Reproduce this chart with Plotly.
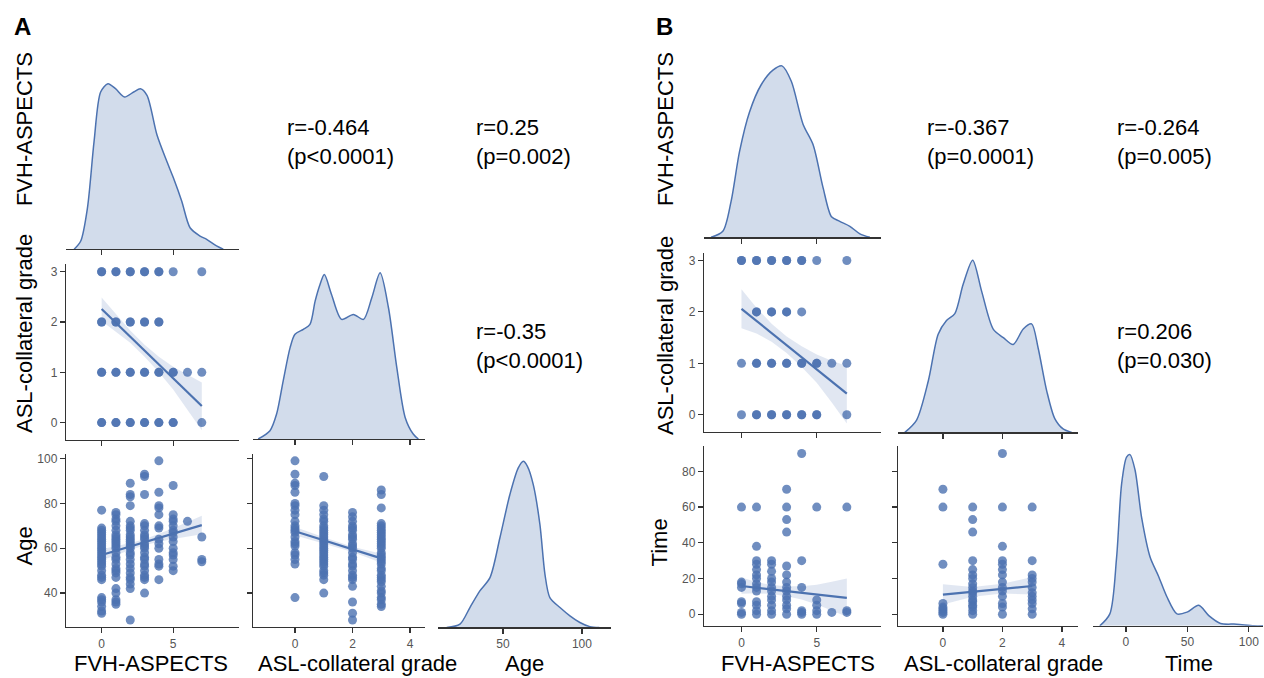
import plotly.graph_objects as go

W, H = 1264, 678
BLUE = "#4c72b0"
PT = "rgba(76,114,176,0.8)"
BAND = "rgba(76,114,176,0.17)"
KFILL = "rgba(76,114,176,0.25)"
FONT = "Liberation Sans, Arial, sans-serif"

# ---------------- DATA ----------------
# Panel A: KDE curves (relative density, peak = 1)
A_fvh_kde_x = [-1.92, -1.46, -0.99, -0.53, -0.07, 0.44, 0.97, 1.6, 2.24, 2.71, 3.17, 3.87, 4.56, 5.02, 5.6, 6.18, 6.88, 7.34, 8.03, 8.5]
A_fvh_kde_y = [0.0, 0.05, 0.25, 0.65, 0.95, 1.0, 0.97, 0.92, 0.95, 0.97, 0.93, 0.69, 0.53, 0.43, 0.29, 0.13, 0.08, 0.06, 0.02, 0.0]
A_asl_kde_x = [-1.28, -0.87, -0.64, -0.41, -0.17, 0.0, 0.29, 0.52, 0.7, 0.87, 1.02, 1.27, 1.62, 2.03, 2.38, 2.67, 2.96, 3.25, 3.54, 3.83, 4.11, 4.29]
A_asl_kde_y = [0.0, 0.05, 0.15, 0.35, 0.55, 0.63, 0.66, 0.69, 0.83, 0.93, 0.99, 0.87, 0.72, 0.75, 0.72, 0.85, 1.0, 0.79, 0.43, 0.13, 0.03, 0.0]
A_age_kde_x = [14.4, 22.8, 29.1, 35.4, 41.8, 48.1, 54.4, 59.7, 62.9, 65.5, 69.2, 73.4, 76.6, 79.7, 86.1, 92.4, 98.7, 105.0, 111.0]
A_age_kde_y = [0.0, 0.02, 0.12, 0.22, 0.30, 0.54, 0.80, 0.96, 1.0, 0.97, 0.86, 0.62, 0.32, 0.18, 0.12, 0.07, 0.03, 0.005, 0.0]

# Panel A: FVH-ASPECTS (x) by ASL-collateral grade level (y)
A_fvh_asl = {
    3: [0, 0, 1, 1, 2, 2, 3, 3, 4, 4, 5, 7],
    2: [0, 0, 1, 1, 2, 2, 3, 3, 4, 4],
    1: [0, 0, 1, 1, 2, 2, 3, 3, 4, 4, 5, 5, 6, 7],
    0: [0, 0, 1, 1, 2, 2, 3, 3, 4, 4, 5, 5, 7],
}
# Panel A: Age by FVH-ASPECTS value
A_fvh_age = {
    0: [77, 69, 68, 67, 66, 65, 64, 63, 62, 61, 60, 59, 58, 57, 56, 55, 54, 53, 52, 50, 48, 47, 46, 38, 37, 36, 34, 32, 31],
    1: [76, 75, 73, 72, 70, 68, 66, 65, 64, 63, 62, 61, 60, 58, 56, 55, 53, 51, 50, 49, 47, 42, 40, 37, 36, 35],
    2: [89, 84, 83, 79, 72, 70, 69, 68, 66, 65, 64, 63, 62, 61, 60, 58, 57, 55, 53, 51, 49, 47, 46, 44, 42, 28],
    3: [93, 92, 84, 71, 70, 68, 66, 65, 64, 62, 61, 60, 58, 56, 55, 53, 52, 50, 48, 47, 46, 40],
    4: [99, 85, 79, 78, 75, 70, 69, 64, 62, 60, 55, 53, 52, 46],
    5: [88, 75, 73, 72, 70, 68, 67, 65, 63, 60, 58, 57, 55, 52, 50],
    6: [72],
    7: [65, 55, 54],
}
# Panel A: Age by ASL-collateral grade
A_asl_age = {
    0: [99, 93, 89, 88, 85, 80, 79, 77, 75, 72, 70, 69, 68, 67, 65, 63, 62, 61, 58, 57, 55, 53, 38],
    1: [92, 79, 77, 75, 73, 72, 70, 69, 68, 67, 66, 65, 64, 63, 62, 61, 60, 59, 58, 57, 56, 55, 54, 53, 52, 50, 49, 48, 46, 40],
    2: [76, 74, 72, 70, 69, 68, 66, 65, 64, 62, 61, 60, 58, 56, 55, 53, 52, 50, 48, 47, 46, 43, 36, 31, 28],
    3: [86, 84, 78, 71, 70, 69, 68, 67, 66, 65, 64, 63, 62, 61, 60, 58, 57, 56, 55, 54, 53, 51, 50, 48, 47, 46, 45, 43, 41, 40, 38, 37, 35, 34],
}
# Panel A: regression lines with confidence bands
A_reg_fvh_x = [0, 1, 2, 3, 4, 5, 6, 7]
A_reg_fvh_asl = [2.26, 1.98, 1.71, 1.43, 1.16, 0.88, 0.61, 0.33]
A_reg_fvh_asl_hi = [2.49, 2.15, 1.83, 1.55, 1.31, 1.11, 0.95, 0.80]
A_reg_fvh_asl_lo = [2.02, 1.81, 1.59, 1.31, 1.00, 0.66, 0.26, -0.15]
A_reg_fvh_age = [57.0, 58.9, 60.8, 62.7, 64.6, 66.5, 68.4, 70.3]
A_reg_fvh_age_hi = [59.6, 60.8, 62.3, 64.0, 66.3, 68.9, 71.7, 74.5]
A_reg_fvh_age_lo = [54.5, 56.9, 59.2, 61.3, 62.9, 64.1, 65.2, 66.2]
A_reg_asl_x = [0, 1, 2, 3]
A_reg_asl_age = [67.6, 63.6, 59.5, 55.5]
A_reg_asl_age_hi = [69.5, 64.9, 60.7, 57.5]
A_reg_asl_age_lo = [65.8, 62.2, 58.3, 53.5]

# Panel B: KDE curves
B_fvh_kde_x = [-2.02, -1.24, -0.69, -0.13, 0.53, 1.31, 2.09, 2.69, 3.31, 4.09, 4.76, 5.42, 5.98, 6.53, 7.2, 7.87, 8.53]
B_fvh_kde_y = [0.0, 0.035, 0.21, 0.5, 0.73, 0.89, 0.975, 1.0, 0.91, 0.66, 0.54, 0.29, 0.12, 0.093, 0.064, 0.02, 0.0]
B_asl_kde_x = [-1.28, -0.89, -0.49, -0.16, 0.12, 0.4, 0.68, 1.0, 1.3, 1.69, 2.03, 2.36, 2.7, 2.98, 3.2, 3.49, 3.76, 4.04, 4.33]
B_asl_kde_y = [0.0, 0.07, 0.3, 0.57, 0.65, 0.69, 0.86, 1.0, 0.82, 0.6, 0.55, 0.51, 0.6, 0.63, 0.49, 0.24, 0.08, 0.02, 0.0]
B_time_kde_x = [-21.3, -13.1, -7.6, -3.5, 0.5, 3.3, 7.4, 12.8, 19.7, 26.5, 33.3, 41.5, 49.7, 59.2, 67.4, 77.0, 90.0, 104.0, 112.0]
B_time_kde_y = [0.0, 0.07, 0.40, 0.83, 0.985, 1.0, 0.91, 0.63, 0.40, 0.29, 0.17, 0.07, 0.08, 0.12, 0.06, 0.014, 0.01, 0.0, 0.0]

B_fvh_asl = {
    3: [0, 0, 1, 1, 2, 2, 3, 3, 4, 4, 5, 7],
    2: [1, 1, 2, 2, 3, 3, 4],
    1: [0, 1, 1, 2, 2, 3, 3, 4, 4, 5, 5, 6, 7],
    0: [0, 1, 1, 2, 2, 3, 3, 4, 4, 5, 5, 7],
}
B_fvh_time = {
    0: [60, 18, 17, 15, 7, 6, 1, 0],
    1: [60, 38, 30, 28, 25, 22, 20, 17, 15, 13, 7, 5, 2, 0],
    2: [30, 28, 24, 20, 18, 15, 13, 10, 8, 5, 2, 0],
    3: [70, 60, 53, 46, 27, 22, 18, 15, 13, 10, 8, 5, 3, 0],
    4: [90, 30, 15, 2, 1, 0],
    5: [60, 8, 5, 2, 0],
    6: [1],
    7: [60, 2, 1],
}
B_asl_time = {
    0: [70, 60, 28, 6, 4, 3, 2, 1, 0],
    1: [60, 53, 46, 30, 25, 22, 20, 17, 15, 13, 12, 10, 8, 7, 5, 4, 2, 0],
    2: [90, 60, 38, 30, 28, 25, 22, 18, 15, 13, 10, 6, 4, 0],
    3: [60, 30, 22, 20, 18, 15, 12, 10, 8, 6, 3, 0],
}
B_reg_fvh_x = [0, 1, 2, 3, 4, 5, 6, 7]
B_reg_fvh_asl = [2.06, 1.82, 1.59, 1.35, 1.12, 0.88, 0.65, 0.41]
B_reg_fvh_asl_hi = [2.44, 2.08, 1.77, 1.52, 1.33, 1.17, 1.05, 0.95]
B_reg_fvh_asl_lo = [1.68, 1.58, 1.42, 1.20, 0.93, 0.62, 0.24, -0.17]
B_reg_fvh_time = [15.8, 14.8, 13.9, 12.9, 12.0, 11.0, 10.1, 9.1]
B_reg_fvh_time_hi = [20.5, 18.0, 16.3, 15.6, 15.6, 16.5, 18.2, 20.0]
B_reg_fvh_time_lo = [11.5, 11.7, 11.3, 10.1, 8.2, 5.5, 2.1, -1.5]
B_reg_asl_x = [0, 1, 2, 3]
B_reg_asl_time = [11.0, 12.6, 14.2, 15.8]
B_reg_asl_time_hi = [16.8, 15.2, 17.0, 20.9]
B_reg_asl_time_lo = [5.5, 9.8, 11.6, 11.0]

# correlation texts
A_stats = [("r=-0.464", "(p<0.0001)"), ("r=0.25", "(p=0.002)"), ("r=-0.35", "(p<0.0001)")]
B_stats = [("r=-0.367", "(p=0.0001)"), ("r=-0.264", "(p=0.005)"), ("r=0.206", "(p=0.030)")]

# ---------------- FIGURE ----------------
fig = go.Figure()
layout = dict(width=W, height=H, margin=dict(l=0, r=0, t=0, b=0),
              paper_bgcolor="white", plot_bgcolor="white", showlegend=False,
              font=dict(family=FONT))
AX = dict(showline=True, linecolor="#333", linewidth=1.2, ticks="outside", ticklen=5,
          tickwidth=1.2, tickcolor="#333", showgrid=False, zeroline=False, fixedrange=True,
          tickfont=dict(family=FONT, size=12, color="#555"))
counter = [0]


def add_axes(x0, x1, ytop, ybot, xr, yr, xt, xl, yt=None, yl=False, kde=False):
    counter[0] += 1
    i = counter[0]
    s = "" if i == 1 else str(i)
    xa = dict(AX, domain=[x0 / W, x1 / W], range=xr, tickvals=xt, showticklabels=xl, anchor="y" + s)
    if kde:
        ya = dict(domain=[1 - ybot / H, 1 - ytop / H], range=yr, visible=False, fixedrange=True, anchor="x" + s)
    else:
        ya = dict(AX, domain=[1 - ybot / H, 1 - ytop / H], range=yr, tickvals=yt, showticklabels=yl, anchor="x" + s)
    layout["xaxis" + s] = xa
    layout["yaxis" + s] = ya
    return "x" + s, "y" + s


def kde(ax, xs, ys):
    fig.add_trace(go.Scatter(x=xs, y=ys, xaxis=ax[0], yaxis=ax[1], mode="lines",
                             line=dict(color=BLUE, width=1.5, shape="spline", smoothing=0.8),
                             fill="tozeroy", fillcolor=KFILL, hoverinfo="skip"))


def scatter_by_x(ax, d):
    xs, ys = [], []
    for k, vals in d.items():
        for v in vals:
            xs.append(k)
            ys.append(v)
    fig.add_trace(go.Scatter(x=xs, y=ys, xaxis=ax[0], yaxis=ax[1], mode="markers",
                             marker=dict(size=9, color=PT, line=dict(width=0))))


def scatter_by_y(ax, d):
    xs, ys = [], []
    for k, vals in d.items():
        for v in vals:
            xs.append(v)
            ys.append(k)
    fig.add_trace(go.Scatter(x=xs, y=ys, xaxis=ax[0], yaxis=ax[1], mode="markers",
                             marker=dict(size=9, color=PT, line=dict(width=0))))


def reg(ax, xs, y, lo, hi):
    fig.add_trace(go.Scatter(x=xs, y=hi, xaxis=ax[0], yaxis=ax[1], mode="lines",
                             line=dict(width=0, color=BAND), hoverinfo="skip"))
    fig.add_trace(go.Scatter(x=xs, y=lo, xaxis=ax[0], yaxis=ax[1], mode="lines",
                             line=dict(width=0, color=BAND), fill="tonexty", fillcolor=BAND, hoverinfo="skip"))
    fig.add_trace(go.Scatter(x=[xs[0], xs[-1]], y=[y[0], y[-1]], xaxis=ax[0], yaxis=ax[1], mode="lines",
                             line=dict(color=BLUE, width=2.2)))


# ---- Panel A ----
FVH_T = [0, 5]
ASL_T = [0, 2, 4]
a11 = add_axes(66, 239, 72, 248, [-2.49, 9.6], [0, 1.06], FVH_T, False, kde=True)
a21 = add_axes(66, 239, 263, 439, [-2.49, 9.6], [-0.34, 3.15], FVH_T, False, [0, 1, 2, 3], True)
a22 = add_axes(253, 425, 263, 438.3, [-1.46, 4.52], [0, 1.052], ASL_T, False, kde=True)
a31 = add_axes(66, 239, 453, 627, [-2.49, 9.6], [24.8, 102.2], FVH_T, True, [40, 60, 80, 100], True)
a32 = add_axes(253, 425, 453, 627, [-1.46, 4.52], [24.8, 102.2], ASL_T, True, [40, 60, 80, 100], False)
a33 = add_axes(438, 611, 453, 627.3, [8.9, 118.4], [0, 1.046], [50, 100], True, kde=True)

kde(a11, A_fvh_kde_x, A_fvh_kde_y)
kde(a22, A_asl_kde_x, A_asl_kde_y)
kde(a33, A_age_kde_x, A_age_kde_y)
scatter_by_y(a21, A_fvh_asl)
reg(a21, A_reg_fvh_x, A_reg_fvh_asl, A_reg_fvh_asl_lo, A_reg_fvh_asl_hi)
scatter_by_x(a31, A_fvh_age)
reg(a31, A_reg_fvh_x, A_reg_fvh_age, A_reg_fvh_age_lo, A_reg_fvh_age_hi)
scatter_by_x(a32, A_asl_age)
reg(a32, A_reg_asl_x, A_reg_asl_age, A_reg_asl_age_lo, A_reg_asl_age_hi)

# ---- Panel B ----
b11 = add_axes(704, 881, 56, 236, [-2.49, 9.27], [0, 1.047], FVH_T, False, kde=True)
b21 = add_axes(704, 881, 252, 431, [-2.49, 9.27], [-0.33, 3.14], FVH_T, False, [0, 1, 2, 3], True)
b22 = add_axes(898, 1078, 252, 431.7, [-1.51, 4.54], [0, 1.04], ASL_T, False, kde=True)
b31 = add_axes(704, 881, 445, 626, [-2.49, 9.27], [-6.7, 94.4], FVH_T, True, [0, 20, 40, 60, 80], True)
b32 = add_axes(898, 1078, 445, 626, [-1.51, 4.54], [-6.7, 94.4], ASL_T, True, [0, 20, 40, 60, 80], False)
b33 = add_axes(1093, 1263, 445, 625.7, [-26.8, 111.5], [0, 1.052], [0, 50, 100], True, kde=True)

kde(b11, B_fvh_kde_x, B_fvh_kde_y)
kde(b22, B_asl_kde_x, B_asl_kde_y)
kde(b33, B_time_kde_x, B_time_kde_y)
scatter_by_y(b21, B_fvh_asl)
reg(b21, B_reg_fvh_x, B_reg_fvh_asl, B_reg_fvh_asl_lo, B_reg_fvh_asl_hi)
scatter_by_x(b31, B_fvh_time)
reg(b31, B_reg_fvh_x, B_reg_fvh_time, B_reg_fvh_time_lo, B_reg_fvh_time_hi)
scatter_by_x(b32, B_asl_time)
reg(b32, B_reg_asl_x, B_reg_asl_time, B_reg_asl_time_lo, B_reg_asl_time_hi)

# ---- Text ----
ann = []


def text(px, py, s, size=22, angle=0, bold=False, xanchor="center", align="center"):
    ann.append(dict(x=px / W, y=1 - py / H, xref="paper", yref="paper", text=("<b>%s</b>" % s) if bold else s,
                    showarrow=False, textangle=angle, xanchor=xanchor, yanchor="middle", align=align,
                    font=dict(family=FONT, size=size, color="black")))


text(22, 25, "A", size=24, bold=True)
text(664, 25, "B", size=24, bold=True)

# bottom x titles
text(150.5, 663, "FVH-ASPECTS")
text(357, 663, "ASL-collateral grade")
text(524, 663, "Age")
text(797.5, 663, "FVH-ASPECTS")
text(1003, 663, "ASL-collateral grade")
text(1188.5, 663, "Time")
# left y titles
text(24, 127.5, "FVH-ASPECTS", angle=-90)
text(24, 333, "ASL-collateral grade", angle=-90)
text(24, 546, "Age", angle=-90)
text(665, 127.5, "FVH-ASPECTS", angle=-90)
text(665, 335, "ASL-collateral grade", angle=-90)
text(659, 542, "Time", angle=-90)

# correlation statistics
for (r, p), (px, py) in zip(A_stats, [(285, 140), (474, 140), (474, 345)]):
    text(px, py, r + "<br>" + p, xanchor="left", align="left")
for (r, p), (px, py) in zip(B_stats, [(925, 140), (1115, 140), (1115, 345)]):
    text(px, py, r + "<br>" + p, xanchor="left", align="left")

layout["annotations"] = ann
fig.update_layout(**layout)
fig.write_html("out.html", config={"displayModeBar": False, "staticPlot": True},
               post_script="document.body.style.margin='0';document.body.style.overflow='hidden';")
